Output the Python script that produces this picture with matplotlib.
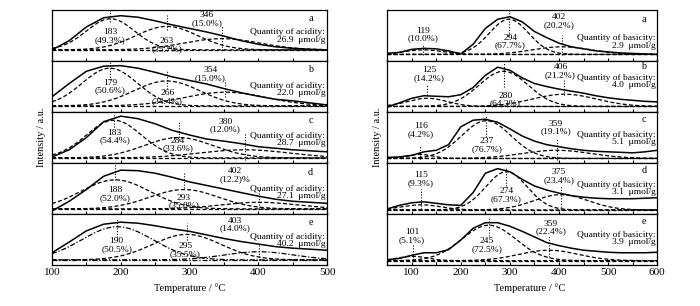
import numpy as np
import matplotlib.pyplot as plt
from matplotlib.ticker import MultipleLocator

plt.rcParams["font.family"] = ["Liberation Serif", "DejaVu Serif"]

PANELS = ["a", "b", "c", "d", "e"]

# ── Acidity (left column) ─────────────────────────────────────────────────────
ACID_T = [100, 125, 150, 175, 200, 225, 250, 275, 300, 325, 350, 375, 400, 425, 450, 475, 500]
ACID_TOTAL = [
    [0.22, 0.40, 0.67, 0.85, 0.89, 0.86, 0.79, 0.71, 0.64, 0.57, 0.49, 0.40, 0.33, 0.28, 0.25, 0.23, 0.22],
    [0.30, 0.56, 0.80, 0.90, 0.91, 0.86, 0.78, 0.69, 0.62, 0.55, 0.46, 0.38, 0.31, 0.25, 0.22, 0.18, 0.14],
    [0.12, 0.26, 0.50, 0.81, 0.92, 0.87, 0.77, 0.64, 0.55, 0.47, 0.43, 0.38, 0.32, 0.29, 0.26, 0.24, 0.22],
    [0.06, 0.25, 0.48, 0.74, 0.86, 0.85, 0.80, 0.72, 0.63, 0.56, 0.49, 0.42, 0.35, 0.29, 0.25, 0.23, 0.21],
    [0.24, 0.45, 0.67, 0.80, 0.84, 0.82, 0.77, 0.71, 0.66, 0.59, 0.52, 0.46, 0.41, 0.36, 0.33, 0.31, 0.29],
]
ACID_BASE = [0.22, 0.12, 0.10, 0.10, 0.10]
# fitted peaks: centre (as drawn), top, width
ACID_PEAK_T = [[185, 267, 347], [184, 267, 352], [190, 284, 380], [192, 292, 401], [195, 296, 401]]
ACID_PEAK_TOP = [[0.83, 0.68, 0.44], [0.86, 0.61, 0.39], [0.84, 0.50, 0.26], [0.67, 0.48, 0.23], [0.75, 0.60, 0.26]]
ACID_PEAK_W = [[35, 45, 55], [40, 48, 60], [40, 50, 65], [50, 50, 55], [52, 50, 50]]
ACID_LABEL_T = [["183", "263", "346"], ["179", "266", "354"], ["183", "284", "380"],
                ["188", "293", "402"], ["190", "295", "403"]]
ACID_LABEL_PCT = [["(49.3%)", "(35.7%)", "(15.0%)"], ["(50.6%)", "(34.4%)", "(15.0%)"],
                  ["(54.4%)", "(33.6%)", "(12.0%)"], ["(52.0%)", "(35.8%)", "(12.2)%"],
                  ["(50.5%)", "(35.5%)", "(14.0%)"]]
ACID_QTY = ["26.9", "22.0", "28.7", "27.1", "40.2"]

# ── Basicity (right column) ───────────────────────────────────────────────────
BASE_T = [50, 75, 100, 125, 150, 175, 200, 225, 250, 275, 300, 325, 350, 375, 400,
          425, 450, 475, 500, 525, 550, 575, 600]
BASE_TOTAL = [
    [0.15, 0.17, 0.23, 0.25, 0.24, 0.20, 0.14, 0.33, 0.64, 0.82, 0.87, 0.77, 0.58, 0.46, 0.35,
     0.28, 0.24, 0.20, 0.18, 0.16, 0.15, 0.14, 0.13],
    [0.10, 0.18, 0.27, 0.32, 0.31, 0.30, 0.34, 0.48, 0.72, 0.88, 0.82, 0.67, 0.56, 0.50, 0.45,
     0.41, 0.37, 0.32, 0.28, 0.25, 0.23, 0.21, 0.20],
    [0.11, 0.12, 0.15, 0.22, 0.25, 0.36, 0.71, 0.84, 0.86, 0.80, 0.67, 0.53, 0.43, 0.36, 0.32,
     0.28, 0.25, 0.23, 0.22, 0.21, 0.20, 0.22, 0.25],
    [0.10, 0.17, 0.22, 0.24, 0.21, 0.18, 0.17, 0.42, 0.80, 0.89, 0.83, 0.68, 0.55, 0.47, 0.41,
     0.36, 0.33, 0.31, 0.30, 0.30, 0.30, 0.31, 0.32],
    [0.10, 0.13, 0.19, 0.24, 0.24, 0.30, 0.49, 0.72, 0.83, 0.83, 0.76, 0.66, 0.55, 0.44, 0.38,
     0.33, 0.29, 0.27, 0.25, 0.24, 0.24, 0.24, 0.25],
]
BASE_BASE = [0.13, 0.11, 0.09, 0.08, 0.085]
BASE_PEAK_T = [[124, 298, 406], [132, 287, 411], [117, 252, 395], [120, 293, 404], [102, 257, 379]]
BASE_PEAK_TOP = [[0.22, 0.82, 0.28], [0.27, 0.80, 0.35], [0.17, 0.83, 0.25], [0.18, 0.83, 0.38], [0.17, 0.78, 0.29]]
BASE_PEAK_W = [[40, 40, 60], [40, 50, 65], [25, 50, 70], [40, 42, 55], [30, 55, 60]]
BASE_LABEL_T = [["119", "294", "402"], ["125", "280", "406"], ["116", "237", "359"],
                ["115", "274", "375"], ["101", "245", "359"]]
BASE_LABEL_PCT = [["(10.0%)", "(67.7%)", "(20.2%)"], ["(14.2%)", "(64.3%)", "(21.2%)"],
                  ["(4.2%)", "(76.7%)", "(19.1%)"], ["(9.3%)", "(67.3%)", "(23.4%)"],
                  ["(5.1%)", "(72.5%)", "(22.4%)"]]
BASE_QTY = ["2.9", "4.0", "5.1", "3.1", "3.9"]

# ── Layout (label centres and dotted marker extents, in panel coordinates) ────
ACID_LABEL_POS = [[(185, 0.49), (267, 0.31), (325, 0.82)],
                  [(184, 0.50), (268, 0.29), (330, 0.74)],
                  [(191, 0.52), (283, 0.36), (352, 0.73)],
                  [(192, 0.39), (292, 0.24), (366, 0.76)],
                  [(194, 0.39), (294, 0.29), (366, 0.79)]]
ACID_DOTS = [[(0.77, 1.0), (0.61, 0.92), (0.22, 0.71)],
             [(0.63, 0.99), (0.46, 0.82), (0.30, 0.63)],
             [(0.71, 0.97), (0.45, 0.81), (0.06, 0.58)],
             [(0.67, 0.96), (0.52, 0.80), (0.12, 0.50)],
             [(0.49, 0.92), (0.49, 0.82), (0.10, 0.39)]]
ACID_QTY_Y = [0.49, 0.44, 0.46, 0.425, 0.48]
ACID_LETTER_Y = [0.84, 0.83, 0.83, 0.82, 0.83]

BASE_LABEL_POS = [[(124, 0.52), (301, 0.38), (400, 0.78)],
                  [(136, 0.74), (291, 0.24), (403, 0.80)],
                  [(119, 0.65), (253, 0.35), (393, 0.70)],
                  [(119, 0.69), (293, 0.37), (400, 0.74)],
                  [(101, 0.57), (253, 0.39), (383, 0.73)]]
BASE_DOTS = [[(0.12, 0.31), (0.50, 1.0), (0.12, 0.51)],
             [(0.33, 0.53), (0.50, 0.99), (0.33, 0.63)],
             [(0.07, 0.35), (0.52, 0.94), (0.06, 0.48)],
             [(0.10, 0.50), (0.54, 0.93), (0.08, 0.54)],
             [(0.10, 0.39), (0.56, 0.95), (0.16, 0.59)]]
BASE_QTY_Y = [0.37, 0.60, 0.48, 0.50, 0.52]
BASE_LETTER_Y = [0.81, 0.89, 0.85, 0.85, 0.86]

FS = 6.8
DASH = (0, (3.2, 1.8))
DASHDOT = (0, (4, 1.5, 1, 1.5))


def gauss(t, centre, top, width, base):
    return base + (top - base) * np.exp(-0.5 * ((t - centre) / width) ** 2)


def draw_column(fig, left, width, xlim, T, totals, bases, pk_t, pk_top, pk_w,
                lab_t, lab_pct, lab_pos, dots, qty, qty_y, qty_word, letter_x, letter_y):
    bottom, top = 0.134, 0.967
    h = (top - bottom) / 5
    t_fine = np.linspace(xlim[0], xlim[1], 500)
    for i, name in enumerate(PANELS):
        ax = fig.add_axes([left, top - (i + 1) * h, width, h])
        ax.set_xlim(*xlim)
        ax.set_ylim(0, 1)

        # left column panel e uses dash-dot for baseline and two peaks
        special = (qty_word == "acidity" and i == 4)
        base_ls = DASHDOT if special else DASH
        comp_ls = [DASHDOT, DASH, DASHDOT] if special else [DASH, DASH, DASH]

        ax.plot(xlim, [bases[i], bases[i]], color="black", lw=0.9, ls=base_ls)
        for k in range(3):
            y = gauss(t_fine, pk_t[i][k], pk_top[i][k], pk_w[i][k], bases[i])
            ax.plot(t_fine, y, color="black", lw=0.9, ls=comp_ls[k])
            lo, hi = dots[i][k]
            ax.plot([pk_t[i][k], pk_t[i][k]], [lo, hi], color="black", lw=0.8, ls=(0, (1, 1.5)))
            lx, ly = lab_pos[i][k]
            ax.text(lx, ly, f"{lab_t[i][k]}\n{lab_pct[i][k]}", ha="center", va="center",
                    fontsize=FS, linespacing=0.95)
        ax.plot(T, totals[i], color="black", lw=1.1, solid_joinstyle="round")

        ax.text(letter_x, letter_y[i], name, ha="center", va="center", fontsize=FS + 0.5)
        ax.text(0.993, qty_y[i], f"Quantity of {qty_word}:\n{qty[i]}  μmol/g",
                transform=ax.transAxes, ha="right", va="center", fontsize=FS,
                linespacing=0.95, multialignment="right")

        ax.xaxis.set_major_locator(MultipleLocator(100))
        ax.xaxis.set_minor_locator(MultipleLocator(50))
        ax.tick_params(axis="x", which="both", direction="in", length=2.5, width=0.8,
                       labelsize=8, pad=2)
        ax.set_yticks([])
        if i < 4:
            ax.tick_params(axis="x", labelbottom=False)
        for sp in ax.spines.values():
            sp.set_linewidth(0.9)


fig = plt.figure(figsize=(7.0, 3.06), dpi=100)

draw_column(fig, 0.0743, 0.393, (100, 500), ACID_T, ACID_TOTAL, ACID_BASE,
            ACID_PEAK_T, ACID_PEAK_TOP, ACID_PEAK_W, ACID_LABEL_T, ACID_LABEL_PCT,
            ACID_LABEL_POS, ACID_DOTS, ACID_QTY, ACID_QTY_Y, "acidity", 476, ACID_LETTER_Y)
draw_column(fig, 0.553, 0.386, (50, 600), BASE_T, BASE_TOTAL, BASE_BASE,
            BASE_PEAK_T, BASE_PEAK_TOP, BASE_PEAK_W, BASE_LABEL_T, BASE_LABEL_PCT,
            BASE_LABEL_POS, BASE_DOTS, BASE_QTY, BASE_QTY_Y, "basicity", 573, BASE_LETTER_Y)

fig.text(0.06, 0.55, "Intensity / a.u.", rotation=90, ha="center", va="center", fontsize=7.5)
fig.text(0.539, 0.55, "Intensity / a.u.", rotation=90, ha="center", va="center", fontsize=7.5)
fig.text(0.271, 0.059, "Temperature / °C", ha="center", va="center", fontsize=7.5)
fig.text(0.757, 0.059, "Temperature / °C", ha="center", va="center", fontsize=7.5)

fig.savefig("out.png", dpi=100)
